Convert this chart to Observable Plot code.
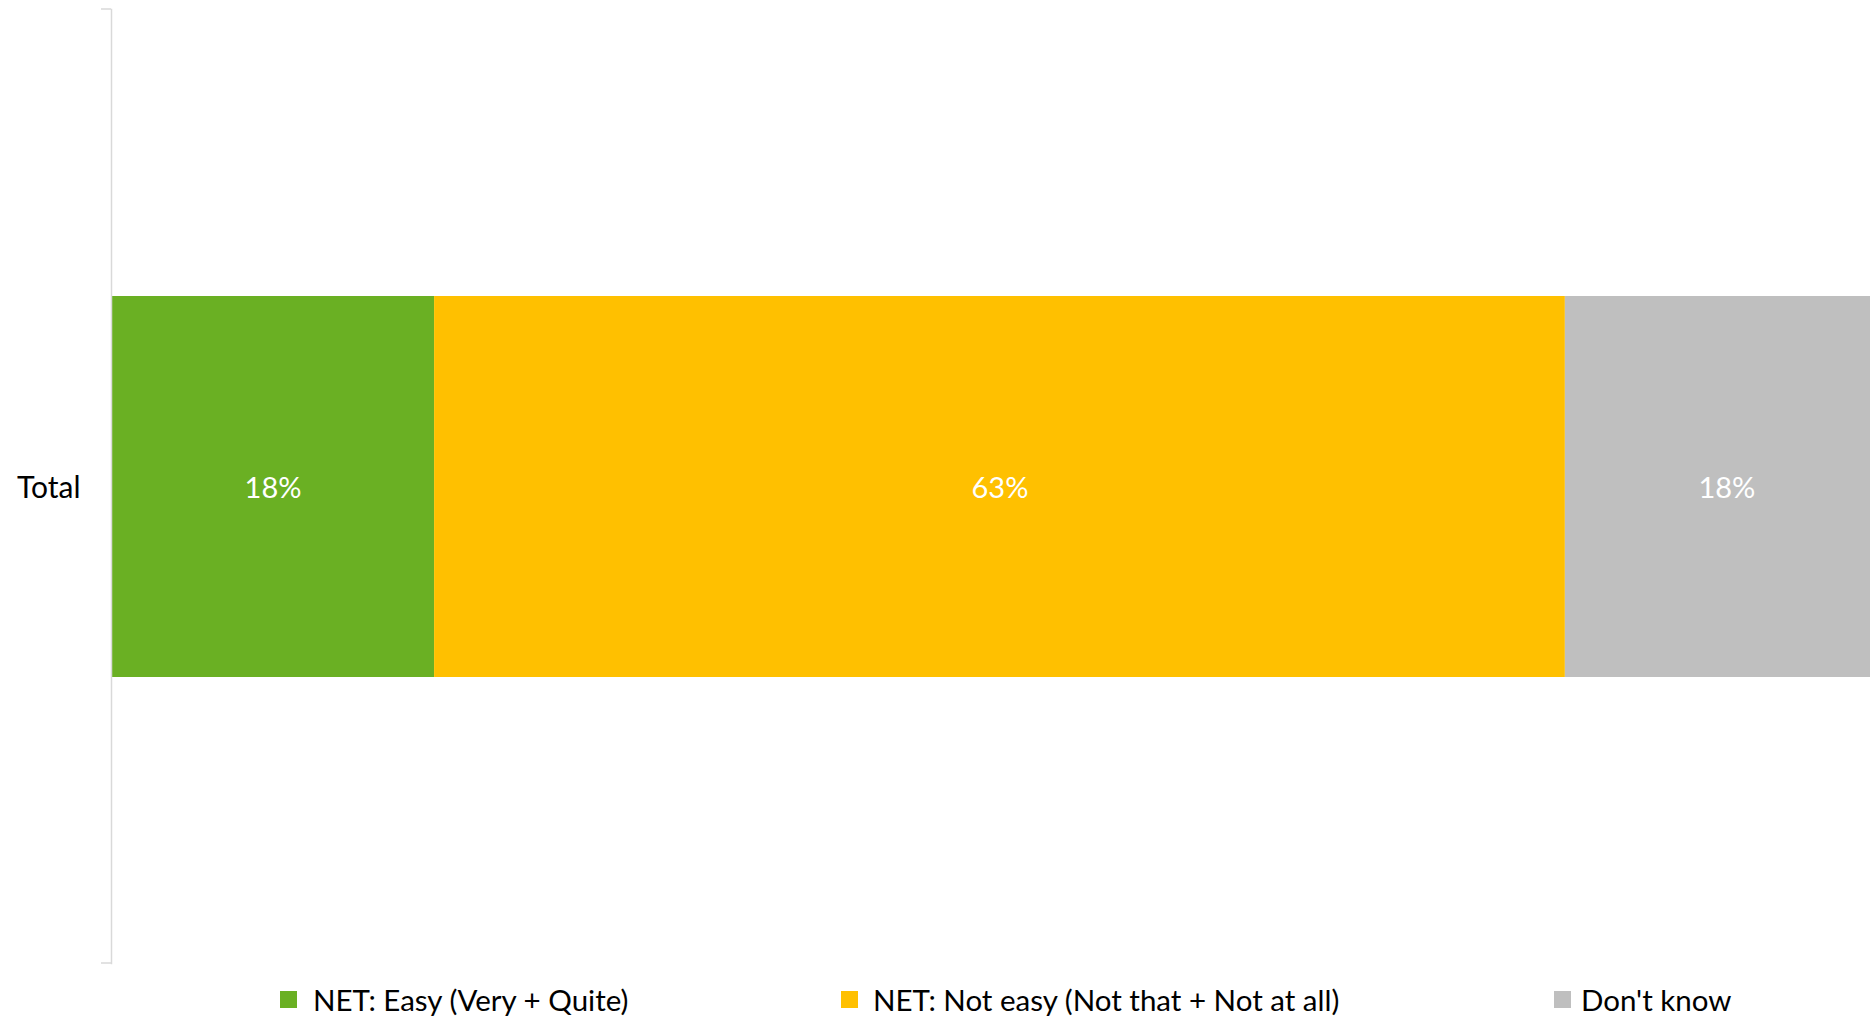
<!DOCTYPE html>
<html>
<head>
<meta charset="utf-8">
<script src="https://cdn.jsdelivr.net/npm/d3@7"></script>
<script src="https://cdn.jsdelivr.net/npm/@observablehq/plot@0.6"></script>
<style>
  html, body { margin: 0; padding: 0; background: #fff; }
  body { width: 1870px; height: 1017px; overflow: hidden; font-family: Lato, "Open Sans", sans-serif; }
  #legend { position: relative; height: 42px; font-size: 29.5px; color: #000; }
  .item { position: absolute; top: 3px; height: 42px; display: flex; align-items: center; white-space: nowrap; }
  .sw { width: 17px; height: 17px; margin-right: 16px; display: inline-block; }
</style>
</head>
<body>
<div id="chart"></div>
<div id="legend"></div>
<script>
const categories = ["Total"];
const seriesNames = ["NET: Easy (Very + Quite)", "NET: Not easy (Not that + Not at all)", "Don't know"];
const seriesValues = [18, 63, 18];
const seriesColors = ["#6AB023", "#FFC000", "#BFBFBF"];

const data = seriesNames.map((name, i) => ({group: categories[0], key: name, value: seriesValues[i]}));

const axisColor = "#D9D9D9";

const endTicks = (index, scales, values, dims) => {
  const g = document.createElementNS("http://www.w3.org/2000/svg", "g");
  const x0 = dims.marginLeft;
  const ys = [dims.marginTop, dims.height - dims.marginBottom];
  for (const y of ys) {
    const l = document.createElementNS("http://www.w3.org/2000/svg", "line");
    l.setAttribute("x1", x0 - 10); l.setAttribute("x2", x0);
    l.setAttribute("y1", y); l.setAttribute("y2", y);
    l.setAttribute("stroke", axisColor); l.setAttribute("stroke-width", 1.5);
    g.appendChild(l);
  }
  return g;
};

const chart = Plot.plot({
  width: 1870,
  height: 975,
  marginLeft: 111,
  marginRight: 0,
  marginTop: 9,
  marginBottom: 12,
  style: {fontFamily: "Lato, 'Open Sans', sans-serif", background: "#fff"},
  x: {domain: [0, 98], axis: null},
  y: {domain: categories, paddingInner: 0, paddingOuter: 0.75, label: null},
  color: {domain: seriesNames, range: seriesColors},
  marks: [
    Plot.barX(data, {x: "value", y: "group", fill: "key", order: seriesNames}),
    Plot.text(data, Plot.stackX({x: "value", y: "group", z: "key", order: seriesNames,
      text: d => d.value + "%", fill: "white", fontSize: 29, dy: 2})),
    Plot.frame({anchor: "left", stroke: axisColor, strokeWidth: 1.5}),
    endTicks,
    Plot.axisY({tickSize: 0, tickPadding: 31, fontSize: 30, fill: "#000", label: null, dy: 1})
  ]
});
document.getElementById("chart").appendChild(chart);

const lefts = [280, 841, 1554];
const swatchGaps = [16, 15, 10];
const legend = document.getElementById("legend");
seriesNames.forEach((name, i) => {
  const it = document.createElement("div");
  it.className = "item";
  it.style.left = lefts[i] + "px";
  const sw = document.createElement("span");
  sw.className = "sw";
  sw.style.background = seriesColors[i];
  sw.style.marginRight = swatchGaps[i] + "px";
  it.appendChild(sw);
  it.appendChild(document.createTextNode(name));
  legend.appendChild(it);
});
</script>
</body>
</html>
